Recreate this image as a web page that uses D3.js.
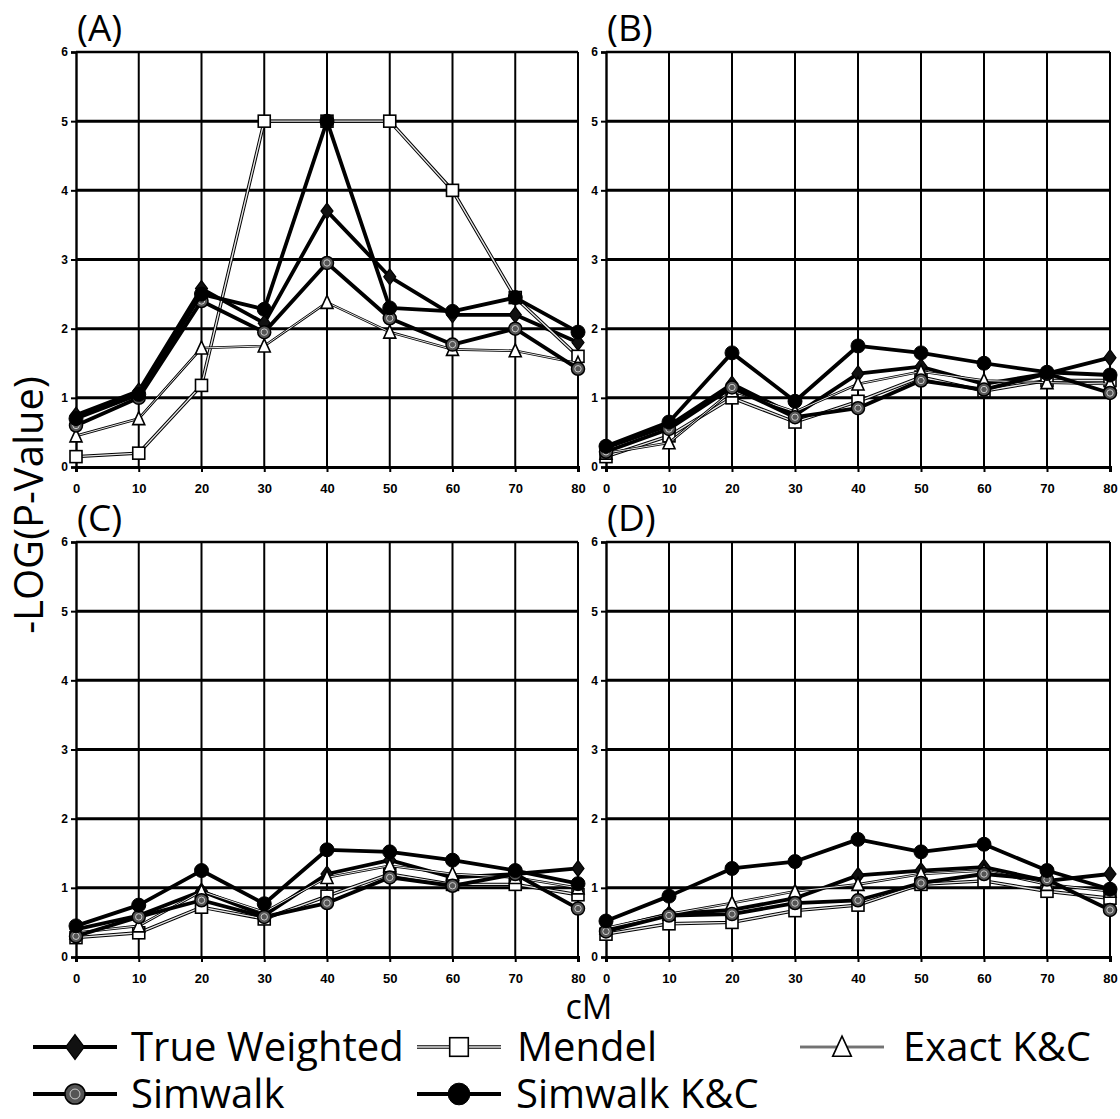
<!DOCTYPE html>
<html><head><meta charset="utf-8">
<script src="https://cdn.jsdelivr.net/npm/d3@7"></script>
<style>body{margin:0;background:#fff}</style>
</head><body>
<svg id="chart" width="1120" height="1119"></svg>
<script>
// ---------- data ----------
const cM = [0, 10, 20, 30, 40, 50, 60, 70, 80];
const yTicks = [0, 1, 2, 3, 4, 5, 6];
const panelLabels = ["(A)", "(B)", "(C)", "(D)"];
const seriesNames = ["True Weighted", "Mendel", "Exact K&C", "Simwalk", "Simwalk K&C"];

const A_trueWeighted = [0.75, 1.10, 2.58, 2.08, 3.70, 2.75, 2.20, 2.20, 1.80];
const A_mendel       = [0.15, 0.20, 1.18, 5.00, 5.00, 5.00, 4.00, 2.45, 1.60];
const A_exactKC      = [0.45, 0.70, 1.72, 1.75, 2.38, 1.95, 1.70, 1.68, 1.50];
const A_simwalk      = [0.60, 1.00, 2.40, 1.95, 2.95, 2.15, 1.77, 2.00, 1.42];
const A_simwalkKC    = [0.70, 1.05, 2.50, 2.28, 5.00, 2.30, 2.25, 2.45, 1.95];

const B_trueWeighted = [0.28, 0.60, 1.20, 0.75, 1.35, 1.45, 1.20, 1.35, 1.58];
const B_mendel       = [0.15, 0.45, 1.00, 0.65, 0.95, 1.30, 1.10, 1.25, 1.25];
const B_exactKC      = [0.20, 0.35, 1.10, 0.80, 1.20, 1.38, 1.25, 1.22, 1.20];
const B_simwalk      = [0.22, 0.55, 1.15, 0.72, 0.85, 1.25, 1.12, 1.35, 1.07];
const B_simwalkKC    = [0.30, 0.65, 1.65, 0.95, 1.75, 1.65, 1.50, 1.37, 1.33];

const C_trueWeighted = [0.40, 0.60, 0.95, 0.60, 1.20, 1.40, 1.15, 1.20, 1.28];
const C_mendel       = [0.28, 0.35, 0.72, 0.55, 0.88, 1.20, 1.05, 1.05, 0.90];
const C_exactKC      = [0.35, 0.45, 0.95, 0.65, 1.15, 1.32, 1.20, 1.15, 1.00];
const C_simwalk      = [0.30, 0.58, 0.82, 0.58, 0.78, 1.15, 1.03, 1.20, 0.70];
const C_simwalkKC    = [0.45, 0.75, 1.25, 0.77, 1.55, 1.52, 1.40, 1.25, 1.06];

const D_trueWeighted = [0.40, 0.62, 0.68, 0.85, 1.18, 1.25, 1.30, 1.10, 1.20];
const D_mendel       = [0.33, 0.48, 0.50, 0.67, 0.75, 1.05, 1.10, 0.95, 0.85];
const D_exactKC      = [0.42, 0.62, 0.78, 0.95, 1.05, 1.20, 1.25, 1.05, 0.95];
const D_simwalk      = [0.37, 0.60, 0.62, 0.78, 0.82, 1.07, 1.20, 1.12, 0.68];
const D_simwalkKC    = [0.52, 0.88, 1.28, 1.38, 1.70, 1.52, 1.63, 1.25, 0.98];

const panelData = [
  [A_trueWeighted, A_mendel, A_exactKC, A_simwalk, A_simwalkKC],
  [B_trueWeighted, B_mendel, B_exactKC, B_simwalk, B_simwalkKC],
  [C_trueWeighted, C_mendel, C_exactKC, C_simwalk, C_simwalkKC],
  [D_trueWeighted, D_mendel, D_exactKC, D_simwalk, D_simwalkKC]
];

// ---------- layout ----------
const svg = d3.select("#chart");
const panels = [
  {x0: 76, x1: 578, y0: 467, y1: 52},
  {x0: 606, x1: 1110, y0: 467, y1: 52},
  {x0: 76, x1: 578, y0: 957, y1: 542},
  {x0: 606, x1: 1110, y0: 957, y1: 542}
];
const tickFont = "'Liberation Sans Narrow','Arial Narrow','Liberation Sans',Arial,sans-serif";
const mainFont = "'Open Sans','Noto Sans',sans-serif";

const styles = [
  {line: "thick", marker: "diamond"},
  {line: "double", marker: "square"},
  {line: "thin", marker: "triangle"},
  {line: "thick", marker: "ocircle"},
  {line: "thick", marker: "fcircle"}
];

function drawMarker(g, type, x, y, s) {
  s = s || 1;
  if (type === "diamond") {
    g.append("path").attr("d", `M${x},${y-8*s}L${x+6*s},${y}L${x},${y+8*s}L${x-6*s},${y}Z`)
      .attr("fill", "#111").attr("stroke", "#000").attr("stroke-width", 1.2);
  } else if (type === "square") {
    g.append("rect").attr("x", x-6*s).attr("y", y-6*s).attr("width", 12*s).attr("height", 12*s)
      .attr("fill", "#fff").attr("stroke", "#000").attr("stroke-width", 1.6);
  } else if (type === "triangle") {
    g.append("path").attr("d", `M${x},${y-7*s}L${x+6*s},${y+6*s}L${x-6*s},${y+6*s}Z`)
      .attr("fill", "#fff").attr("stroke", "#000").attr("stroke-width", 1.6);
  } else if (type === "ocircle") {
    g.append("circle").attr("cx", x).attr("cy", y).attr("r", 6.5*s)
      .attr("fill", "#555").attr("stroke", "#000").attr("stroke-width", 1.5);
    g.append("circle").attr("cx", x).attr("cy", y).attr("r", 3.2*s)
      .attr("fill", "none").attr("stroke", "#ccc").attr("stroke-width", 1);
  } else if (type === "fcircle") {
    g.append("circle").attr("cx", x).attr("cy", y).attr("r", 7*s)
      .attr("fill", "#000").attr("stroke", "#000").attr("stroke-width", 1);
  }
}

function drawLine(g, type, pts) {
  const line = d3.line();
  if (type === "thick") {
    g.append("path").attr("d", line(pts)).attr("fill", "none")
      .attr("stroke", "#000").attr("stroke-width", 3.8).attr("stroke-linejoin", "round");
  } else if (type === "double") {
    g.append("path").attr("d", line(pts)).attr("fill", "none")
      .attr("stroke", "#000").attr("stroke-width", 3.4);
    g.append("path").attr("d", line(pts)).attr("fill", "none")
      .attr("stroke", "#e6e6e6").attr("stroke-width", 1.4);
  } else {
    g.append("path").attr("d", line(pts)).attr("fill", "none")
      .attr("stroke", "#000").attr("stroke-width", 2.6);
    g.append("path").attr("d", line(pts)).attr("fill", "none")
      .attr("stroke", "#fff").attr("stroke-width", 0.9);
  }
}

panels.forEach((p, i) => {
  const x = d3.scaleLinear().domain([0, 80]).range([p.x0, p.x1]);
  const y = d3.scaleLinear().domain([0, 6]).range([p.y0, p.y1]);
  const g = svg.append("g");

  g.selectAll(".vg").data(cM.slice(1)).enter().append("line")
    .attr("x1", d => x(d)).attr("x2", d => x(d)).attr("y1", y(0)).attr("y2", y(6))
    .attr("stroke", "#000").attr("stroke-width", 2);
  g.selectAll(".hg").data(yTicks.slice(1)).enter().append("line")
    .attr("x1", x(0)).attr("x2", x(80)).attr("y1", d => y(d)).attr("y2", d => y(d))
    .attr("stroke", "#000").attr("stroke-width", d => d === 6 ? 2.4 : 3);

  const yAxis = d3.axisLeft(y).tickValues(yTicks).tickSize(5).tickPadding(3).tickFormat(d3.format("d"));
  const gy = g.append("g").attr("transform", `translate(${x(0)},0)`).call(yAxis);
  gy.select(".domain").attr("stroke", "#000").attr("stroke-width", 2.4);
  gy.selectAll(".tick line").attr("stroke", "#000").attr("stroke-width", 2);
  gy.selectAll("text").attr("font-family", tickFont).attr("font-weight", "bold")
    .attr("font-size", 12).attr("fill", "#000");

  const xAxis = d3.axisBottom(x).tickValues(cM).tickSize(5).tickPadding(12).tickFormat(d3.format("d"));
  const gx = g.append("g").attr("transform", `translate(0,${y(0)})`).call(xAxis);
  gx.select(".domain").attr("stroke", "#000").attr("stroke-width", 3);
  gx.selectAll(".tick line").attr("stroke", "#000").attr("stroke-width", 2);
  gx.selectAll("text").attr("font-family", tickFont).attr("font-weight", "bold")
    .attr("font-size", 13).attr("fill", "#000");

  panelData[i].forEach((vals, s) => {
    const pts = vals.map((v, k) => [x(cM[k]), y(v)]);
    const sg = g.append("g");
    drawLine(sg, styles[s].line, pts);
    pts.forEach(pt => drawMarker(sg, styles[s].marker, pt[0], pt[1]));
  });

  svg.append("text").attr("x", p.x0 + 1).attr("y", p.y1 - 11)
    .attr("font-family", mainFont).attr("font-size", 37).attr("fill", "#000")
    .text(panelLabels[i]);
});

// axis titles
svg.append("text").attr("transform", "translate(43,505) rotate(-90)")
  .attr("text-anchor", "middle").attr("font-family", mainFont).attr("font-size", 40)
  .attr("fill", "#000").text("-LOG(P-Value)");
svg.append("text").attr("x", 589).attr("y", 1019).attr("text-anchor", "middle")
  .attr("font-family", mainFont).attr("font-size", 34).attr("fill", "#000").text("cM");

// legend
const legendPos = [
  {sx: 33, tx: 131, y: 1047},
  {sx: 417, tx: 517, y: 1047},
  {sx: 800, tx: 903, y: 1047},
  {sx: 33, tx: 131, y: 1094},
  {sx: 417, tx: 516, y: 1094}
];
seriesNames.forEach((name, s) => {
  const lp = legendPos[s];
  const lg = svg.append("g");
  drawLine(lg, styles[s].line, [[lp.sx, lp.y], [lp.sx + 84, lp.y]]);
  drawMarker(lg, styles[s].marker, lp.sx + 42, lp.y, 1.55);
  lg.append("text").attr("x", lp.tx).attr("y", lp.y + 14)
    .attr("font-family", mainFont).attr("font-size", 40).attr("fill", "#000").text(name);
});
</script>
</body></html>
